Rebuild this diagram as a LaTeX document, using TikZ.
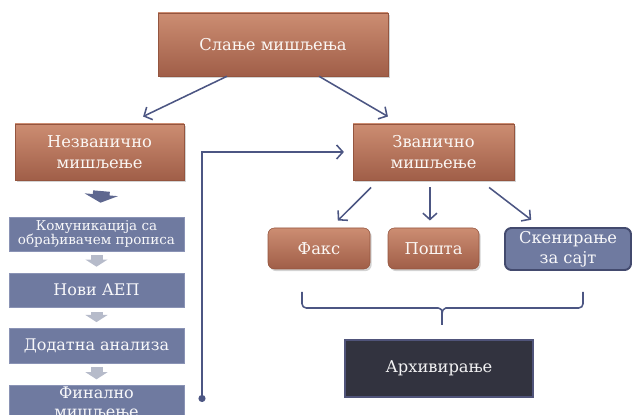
\documentclass[tikz,border=0pt]{standalone}
\usepackage{fontspec}
\setmainfont{DejaVu Serif}
\newfontfamily\serbfont{DejaVu Serif}
\usetikzlibrary{arrows.meta,shadows}

\definecolor{brownTop}{HTML}{CC8D72}
\definecolor{brownBot}{HTML}{A05E48}
\definecolor{brownEdge}{HTML}{94553F}
\definecolor{slate}{HTML}{6F7AA0}
\definecolor{slateEdge}{HTML}{8A93B5}
\definecolor{slateDark}{HTML}{434A6E}
\definecolor{lineBlue}{HTML}{4C5683}
\definecolor{paleArrow}{HTML}{B6BBCA}
\definecolor{archFill}{HTML}{32333F}
\definecolor{archEdge}{HTML}{50547A}

\tikzset{
	brownbox/.style={rectangle, top color=brownTop, bottom color=brownBot, draw=brownEdge, line width=0.4pt,
		drop shadow={shadow xshift=1.2pt, shadow yshift=-1.5pt, opacity=0.35}, text=white!94!brown,
		align=center, inner sep=1pt, font=\serbfont\fontsize{11.6}{14.5}\selectfont},
	roundbrown/.style={brownbox, rounded corners=0.16cm, minimum height=1.025cm},
	slatebox/.style={rectangle, fill=slate, draw=slateEdge, line width=0.4pt, text=white!95!slate,
		align=center, inner sep=1pt, minimum width=4.375cm, minimum height=0.85cm, font=\serbfont\fontsize{11.4}{14.5}\selectfont},
	archbox/.style={rectangle, fill=archFill, draw=archEdge, line width=1.4pt, text=white!94!archFill,
		minimum width=4.7cm, minimum height=1.425cm, font=\serbfont\fontsize{11.6}{14.5}\selectfont},
	conn/.style={draw=lineBlue, line width=1.1pt, -{Straight Barb[length=4.5pt,width=10pt]}},
	palearrow/.style={draw=paleArrow, line width=0.3cm, -{Triangle[width=0.55cm,length=0.18cm]}},
	blockarrow/.style={draw=lineBlue!90!white, line width=0.42cm, -{Triangle[width=0.83cm,length=0.2cm]}},
	bracket/.style={draw=lineBlue, line width=1.1pt, rounded corners=3pt}
}

\begin{document}
\begin{tikzpicture}
	\useasboundingbox (0,0) rectangle (15.8,10.375);
	\node[brownbox, minimum width=5.75cm, minimum height=1.575cm] (slanje) at (6.825,9.2625) {Слање мишљења};
	\node[brownbox, minimum width=4.225cm, minimum height=1.4cm] (nez) at (2.4875,6.575) {Незванично\\мишљење};
	\node[brownbox, minimum width=4.025cm, minimum height=1.4cm] (zv) at (10.8375,6.575) {Званично\\мишљење};

	\node[slatebox, font=\serbfont\fontsize{9.6}{10.2}\selectfont] (kom) at (2.4125,4.525) {Комуникација са\\обрађивачем прописа};
	\node[slatebox] (aep) at (2.4125,3.125) {Нови АЕП};
	\node[slatebox, minimum height=0.875cm] (anal) at (2.4125,1.7375) {Додатна анализа};
	\node[slatebox, inner ysep=0pt, font=\serbfont\fontsize{11.4}{13.5}\selectfont] (fin) at (2.4125,0.32) {Финално\\мишљење};

	\node[roundbrown, minimum width=2.55cm] (faks) at (7.975,4.1625) {Факс};
	\node[roundbrown, minimum width=2.275cm] (posta) at (10.8375,4.1625) {Пошта};
	\node[slatebox, draw=slateDark, line width=1.4pt, rounded corners=0.16cm, minimum width=3.15cm,
		minimum height=1.05cm, font=\serbfont\fontsize{11.6}{14}\selectfont] (sken) at (14.2,4.15) {Скенирање\\за сајт};
	\node[archbox] (arh) at (10.975,1.1625) {Архивирање};

	\draw[conn] ([xshift=-1.15cm]slanje.south) -- ([xshift=1.09cm,yshift=0.18cm]nez.north);
	\draw[conn] ([xshift=1.15cm]slanje.south) -- ([xshift=-1.14cm,yshift=0.18cm]zv.north);
	\draw[blockarrow] ([xshift=0.05cm,yshift=-0.27cm]nez.south) -- ([xshift=0.1cm,yshift=0.35cm]kom.north);
	\draw[palearrow] ([yshift=-0.1cm]kom.south) -- ([yshift=0.15cm]aep.north);
	\draw[palearrow] ([yshift=-0.12cm]aep.south) -- ([yshift=0.14cm]anal.north);
	\draw[palearrow] ([yshift=-0.1cm]anal.south) -- ([yshift=0.14cm]fin.north);

	\coordinate (dot) at (5.05,0.325);
	\draw[conn, {Circle[length=5pt]}-{Straight Barb[length=4.5pt,width=10pt]}] (dot) |- ([xshift=-0.22cm]zv.west);

	\draw[conn] ([xshift=-1.56cm,yshift=-0.18cm]zv.south) -- ([xshift=0.47cm,yshift=0.18cm]faks.north);
	\draw[conn] ([xshift=-0.09cm,yshift=-0.18cm]zv.south) -- ([xshift=-0.09cm,yshift=0.18cm]posta.north);
	\draw[conn] ([xshift=1.39cm,yshift=-0.18cm]zv.south) -- ([xshift=-0.92cm,yshift=0.18cm]sken.north);

	\draw[bracket] (7.55,3.075) -- (7.55,2.675) -- (10.85,2.675) .. controls (11.0,2.675) and (11.05,2.62) .. (11.05,2.5) -- (11.05,2.25);
	\draw[bracket] (14.575,3.075) -- (14.575,2.675) -- (11.25,2.675) .. controls (11.1,2.675) and (11.05,2.62) .. (11.05,2.5);
\end{tikzpicture}
\end{document}
